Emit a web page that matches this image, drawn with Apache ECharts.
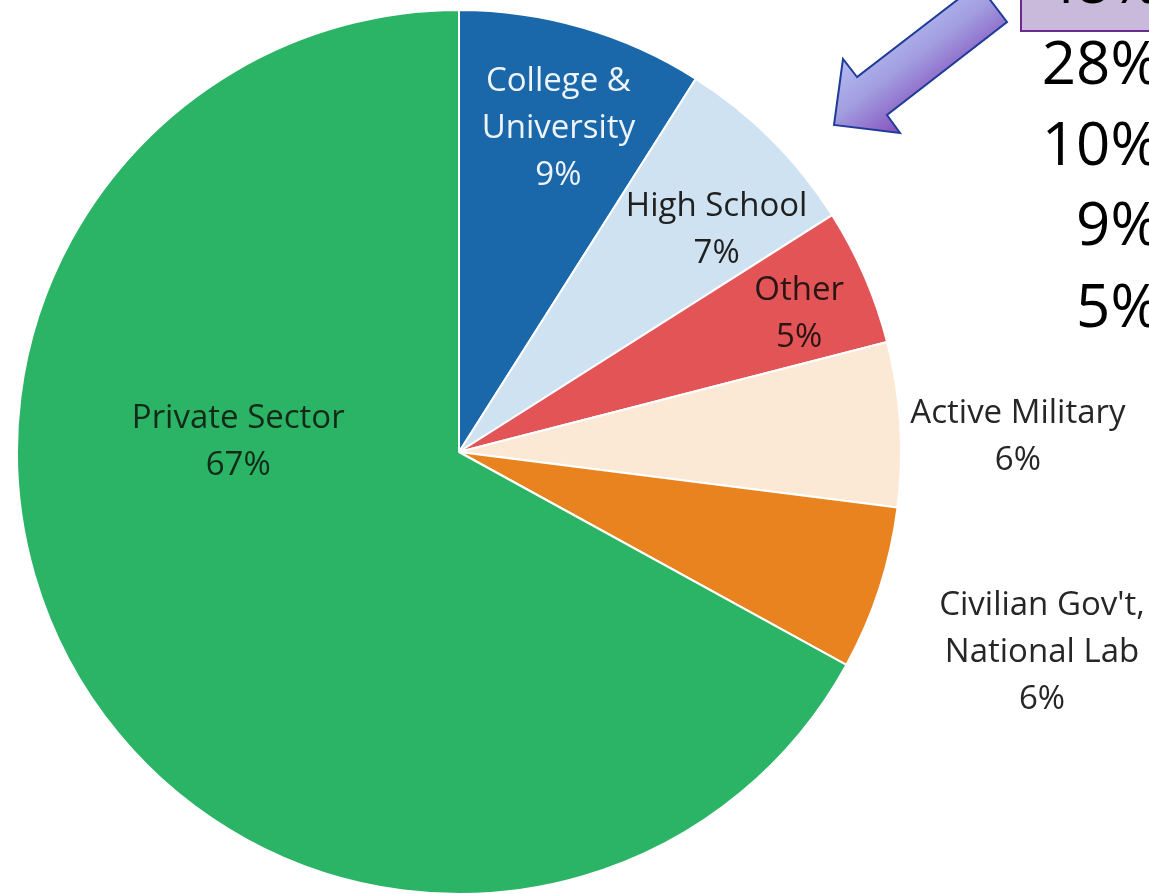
<!DOCTYPE html>
<html>
<head>
<meta charset="utf-8">
<script src="https://cdn.jsdelivr.net/npm/echarts@6/dist/echarts.min.js"></script>
<style>
  html, body { margin: 0; padding: 0; background: #ffffff; }
  #chart { width: 1149px; height: 894px; }
</style>
</head>
<body>
<div id="chart"></div>
<script>
// Where graduates end up: share by employment sector
const categories = ['College &\nUniversity', 'High School', 'Other', 'Active Military', "Civilian Gov't,\nNational Lab", 'Private Sector'];
const shares = [9, 7, 5, 6, 6, 67];
const sliceColors = ['#1a68aa', '#cfe2f1', '#e25456', '#fbe9d5', '#e8831f', '#2bb465'];
const labelColors = ['#eef4fa', '#1f1f1f', '#2a1515', '#262626', '#262626', '#132a19'];

// comparison figures listed beside the pie
const sideFigures = ['48%', '28%', '10%', '9%', '5%'];

// pie geometry (px)
const CX = 459, CY = 452, R = 442;

// label placement: distance from centre as a fraction of the radius,
// plus a small angular nudge (degrees) from the slice's mid-angle
const labelPlacement = [
  { f: 0.765, d: 0.9 },
  { f: 0.77,  d: 4.2 },
  { f: 0.83,  d: 1.4 },
  { f: 1.265, d: 2.1 },
  { f: 1.395, d: 1.0 },
  { f: 0.50,  d: 33.2 }
];

const total = shares.reduce((a, b) => a + b, 0);
const midAngles = [];
let acc = 0;
shares.forEach(v => { midAngles.push((acc + v / 2) / total * 360); acc += v; });

const chart = echarts.init(document.getElementById('chart'), null, { renderer: 'canvas' });

const pieData = categories.map((name, i) => ({
  name: name,
  value: shares[i],
  itemStyle: { color: sliceColors[i] },
  label: { color: labelColors[i] }
}));

// side column: figures right-aligned, the first one boxed
const figureY = [-14, 67, 148, 228, 310];
const graphics = [
  {
    type: 'polygon',
    z: 10,
    shape: {
      points: [[857, 77], [843, 59], [834, 125], [900, 133], [887, 115], [1007, 22], [978, -16]]
    },
    style: {
      fill: {
        type: 'linear', global: true,
        x: 896, y: 19, x2: 952, y2: 93,
        colorStops: [
          { offset: 0, color: '#b4bcf1' },
          { offset: 0.45, color: '#a29ee0' },
          { offset: 1, color: '#8550bd' }
        ]
      },
      stroke: '#1e3c98',
      lineWidth: 2,
      lineJoin: 'miter'
    }
  },
  {
    type: 'rect',
    z: 10,
    shape: { x: 1021, y: -40, width: 200, height: 71 },
    style: { fill: '#c9badb', stroke: '#6c2a8e', lineWidth: 2 }
  }
];
sideFigures.forEach((t, i) => {
  graphics.push({
    type: 'text',
    z: 11,
    style: {
      text: t,
      x: 1160,
      y: figureY[i],
      align: 'right',
      verticalAlign: 'middle',
      font: '60px "Open Sans", sans-serif',
      fill: '#000000'
    }
  });
});

chart.setOption({
  backgroundColor: '#ffffff',
  animation: false,
  graphic: graphics,
  series: [{
    type: 'pie',
    center: [CX, CY],
    radius: R,
    startAngle: 90,
    clockwise: true,
    avoidLabelOverlap: false,
    itemStyle: { borderColor: '#ffffff', borderWidth: 2 },
    label: {
      show: true,
      position: 'inside',
      formatter: '{b}\n{c}%',
      fontFamily: 'Open Sans',
      fontSize: 33,
      lineHeight: 47,
      align: 'center'
    },
    labelLine: { show: false },
    labelLayout: function (p) {
      const i = p.dataIndex;
      const pl = labelPlacement[i];
      const a = (midAngles[i] + pl.d) * Math.PI / 180;
      const rr = pl.f * R;
      return {
        x: CX + rr * Math.sin(a),
        y: CY - rr * Math.cos(a),
        align: 'center',
        verticalAlign: 'middle'
      };
    },
    emphasis: { disabled: true },
    data: pieData
  }]
});
</script>
</body>
</html>
